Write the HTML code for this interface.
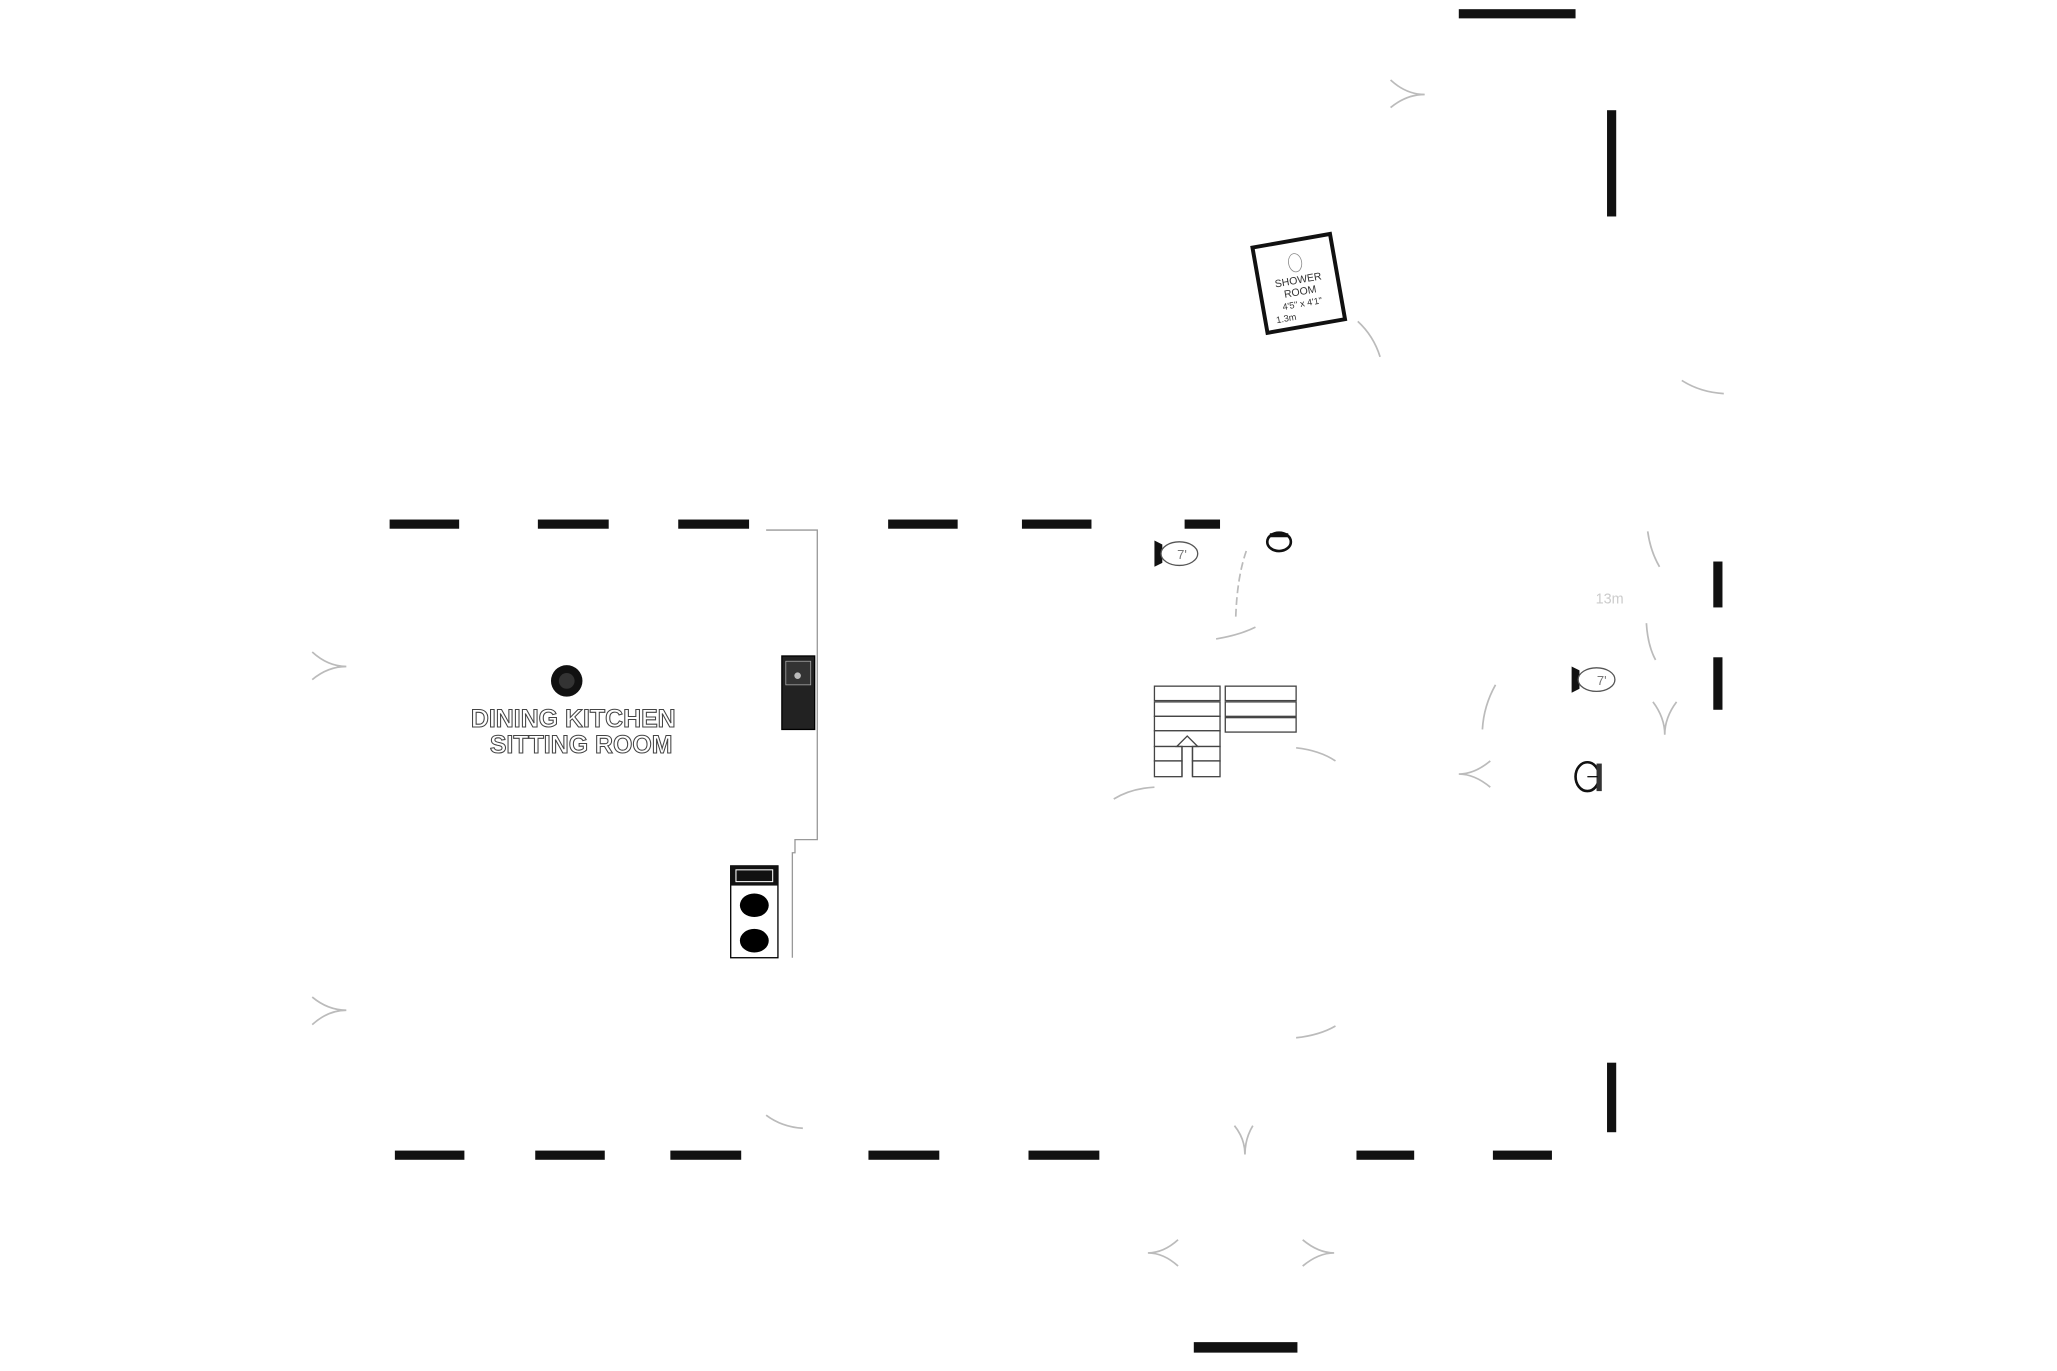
<!DOCTYPE html>
<html><head><meta charset="utf-8"><style>
html,body{margin:0;padding:0;background:#fff;}
svg{display:block;}
</style></head><body>
<svg width="2057" height="1371" viewBox="0 0 1568 1045" preserveAspectRatio="none" xmlns="http://www.w3.org/2000/svg">
<rect width="1568" height="1045" fill="#fff"/>
<g fill="#111">
<!-- top row walls -->
<rect x="297" y="396" width="53" height="7"/>
<rect x="410" y="396" width="54" height="7"/>
<rect x="517" y="396" width="54" height="7"/>
<rect x="677" y="396" width="53" height="7"/>
<rect x="779" y="396" width="53" height="7"/>
<rect x="903" y="396" width="27" height="7"/>
<!-- bottom row -->
<rect x="301" y="877" width="53" height="7"/>
<rect x="408" y="877" width="53" height="7"/>
<rect x="511" y="877" width="54" height="7"/>
<rect x="662" y="877" width="54" height="7"/>
<rect x="784" y="877" width="54" height="7"/>
<rect x="1034" y="877" width="44" height="7"/>
<rect x="1138" y="877" width="45" height="7"/>
<rect x="910" y="1023" width="79" height="8"/>
<rect x="1112" y="7" width="89" height="7"/>
<!-- verticals -->
<rect x="1225" y="84" width="7" height="81"/>
<rect x="1306" y="428" width="7" height="35"/>
<rect x="1306" y="501" width="7" height="40"/>
<rect x="1225" y="810" width="7" height="53"/>
</g>
<!-- kitchen outline -->
<polyline points="584,404 623,404 623,640 606,640 606,650 604,650 604,730" fill="none" stroke="#999" stroke-width="1"/>
<rect x="596" y="500" width="25" height="56" fill="#222" stroke="#000"/>
<rect x="599" y="504" width="19" height="18" fill="#333" stroke="#aaa" stroke-width="0.6"/>
<circle cx="608" cy="515" r="2.5" fill="#bbb"/>
<rect x="557" y="660" width="36" height="70" fill="#fff" stroke="#000"/>
<rect x="557" y="660" width="36" height="15" fill="#111"/>
<rect x="561" y="663" width="28" height="9" fill="none" stroke="#fff" stroke-width="0.8"/>
<ellipse cx="575" cy="690" rx="11" ry="9" fill="#000"/>
<ellipse cx="575" cy="717" rx="11" ry="9" fill="#000"/>
<circle cx="432" cy="519" r="12" fill="#111"/>
<circle cx="432" cy="519" r="6" fill="#333"/>
<text x="437" y="554" font-family="Liberation Sans, sans-serif" font-weight="bold" font-size="19" text-anchor="middle" fill="#fff" stroke="#444" stroke-width="0.8">DINING KITCHEN</text>
<text x="443" y="574" font-family="Liberation Sans, sans-serif" font-weight="bold" font-size="19" text-anchor="middle" fill="#fff" stroke="#444" stroke-width="0.8">SITTING ROOM</text>
<rect x="516" y="535" width="60" height="45" fill="#fff"/>
<!-- stairs -->
<g fill="#fff" stroke="#444" stroke-width="1">
<rect x="880" y="523" width="50" height="11"/>
<rect x="880" y="535" width="50" height="11"/>
<rect x="880" y="546" width="50" height="11"/>
<rect x="880" y="557" width="50" height="12"/>
<rect x="880" y="569" width="21" height="11"/>
<rect x="909" y="569" width="21" height="11"/>
<rect x="880" y="580" width="21" height="12"/>
<rect x="909" y="580" width="21" height="12"/>
<rect x="934" y="523" width="54" height="11"/>
<rect x="934" y="535" width="54" height="11"/>
<rect x="934" y="547" width="54" height="11"/>
</g>
<polyline points="901,592 901,569 897,569 905,561 913,569 909,569 909,592" fill="none" stroke="#444"/>
<!-- shower room -->
<g transform="rotate(-10 990 216)">
<rect x="960" y="183" width="60" height="66" fill="#fff" stroke="#111" stroke-width="3"/>
<ellipse cx="990" cy="200" rx="5" ry="7" fill="none" stroke="#888" stroke-width="0.6"/>
<text x="990" y="216" font-family="Liberation Sans, sans-serif" font-size="8" text-anchor="middle" fill="#333">SHOWER</text>
<text x="990" y="225" font-family="Liberation Sans, sans-serif" font-size="8" text-anchor="middle" fill="#333">ROOM</text>
<text x="990" y="234" font-family="Liberation Sans, sans-serif" font-size="7" text-anchor="middle" fill="#333">4'5" x 4'1"</text>
<text x="976" y="243" font-family="Liberation Sans, sans-serif" font-size="7" text-anchor="middle" fill="#333">1.3m</text>
</g>
<!-- toilets -->
<g>
<path d="M880 412 L886 415 L886 429 L880 432 Z" fill="#111"/>
<ellipse cx="899" cy="422" rx="14" ry="9" fill="#fff" stroke="#555"/>
<text x="901" y="426" font-family="Liberation Sans, sans-serif" font-size="10" fill="#777" text-anchor="middle">7'</text>
<path d="M1198 508 L1204 511 L1204 525 L1198 528 Z" fill="#111"/>
<ellipse cx="1217" cy="518" rx="14" ry="9" fill="#fff" stroke="#555"/>
<text x="1221" y="522" font-family="Liberation Sans, sans-serif" font-size="10" fill="#777" text-anchor="middle">7'</text>
<ellipse cx="975" cy="413" rx="9" ry="7" fill="#fff" stroke="#111" stroke-width="2"/>
<path d="M968 408 L982 408" stroke="#111" stroke-width="3"/>
<ellipse cx="1210" cy="592" rx="9" ry="11" fill="#fff" stroke="#111" stroke-width="2"/>
<rect x="1217" y="582" width="4" height="21" fill="#333"/>
<line x1="1210" y1="592" x2="1218" y2="592" stroke="#111"/>
<text x="1227" y="460" font-family="Liberation Sans, sans-serif" font-size="11" fill="#ccc" text-anchor="middle">13m</text>
</g>
<!-- arcs and chevrons -->
<g fill="none" stroke="#bbb" stroke-width="1.3">
<path d="M1035 245 Q1047 256 1052 272"/>
<path d="M1282 290 Q1296 299 1314 300"/>
<path d="M1256 405 Q1258 420 1265 432"/>
<path d="M1255 475 Q1256 492 1262 503"/>
<path d="M927 487 Q945 484 957 478"/>
<path d="M950 420 Q943 440 942 470" stroke-dasharray="6 3"/>
<path d="M1140 522 Q1131 538 1130 556"/>
<path d="M988 570 Q1006 572 1018 580"/>
<path d="M849 609 Q862 601 880 600"/>
<path d="M988 791 Q1006 789 1018 782"/>
<path d="M584 850 Q596 859 612 860"/>
<path d="M238 497 Q250 508 264 508 Q250 508 238 518"/>
<path d="M238 760 Q250 770 264 770 Q250 770 238 781"/>
<path d="M1060 61 Q1072 72 1086 72 Q1072 72 1060 82"/>
<path d="M1136 580 Q1124 590 1112 590 Q1124 590 1136 600"/>
<path d="M1260 535 Q1269 547 1269 560 Q1269 547 1278 535"/>
<path d="M941 858 Q949 868 949 880 Q949 868 955 858"/>
<path d="M898 945 Q887 955 875 955 Q887 955 898 965"/>
<path d="M993 945 Q1005 955 1017 955 Q1005 955 993 965"/>
</g>
</svg>
</body></html>
